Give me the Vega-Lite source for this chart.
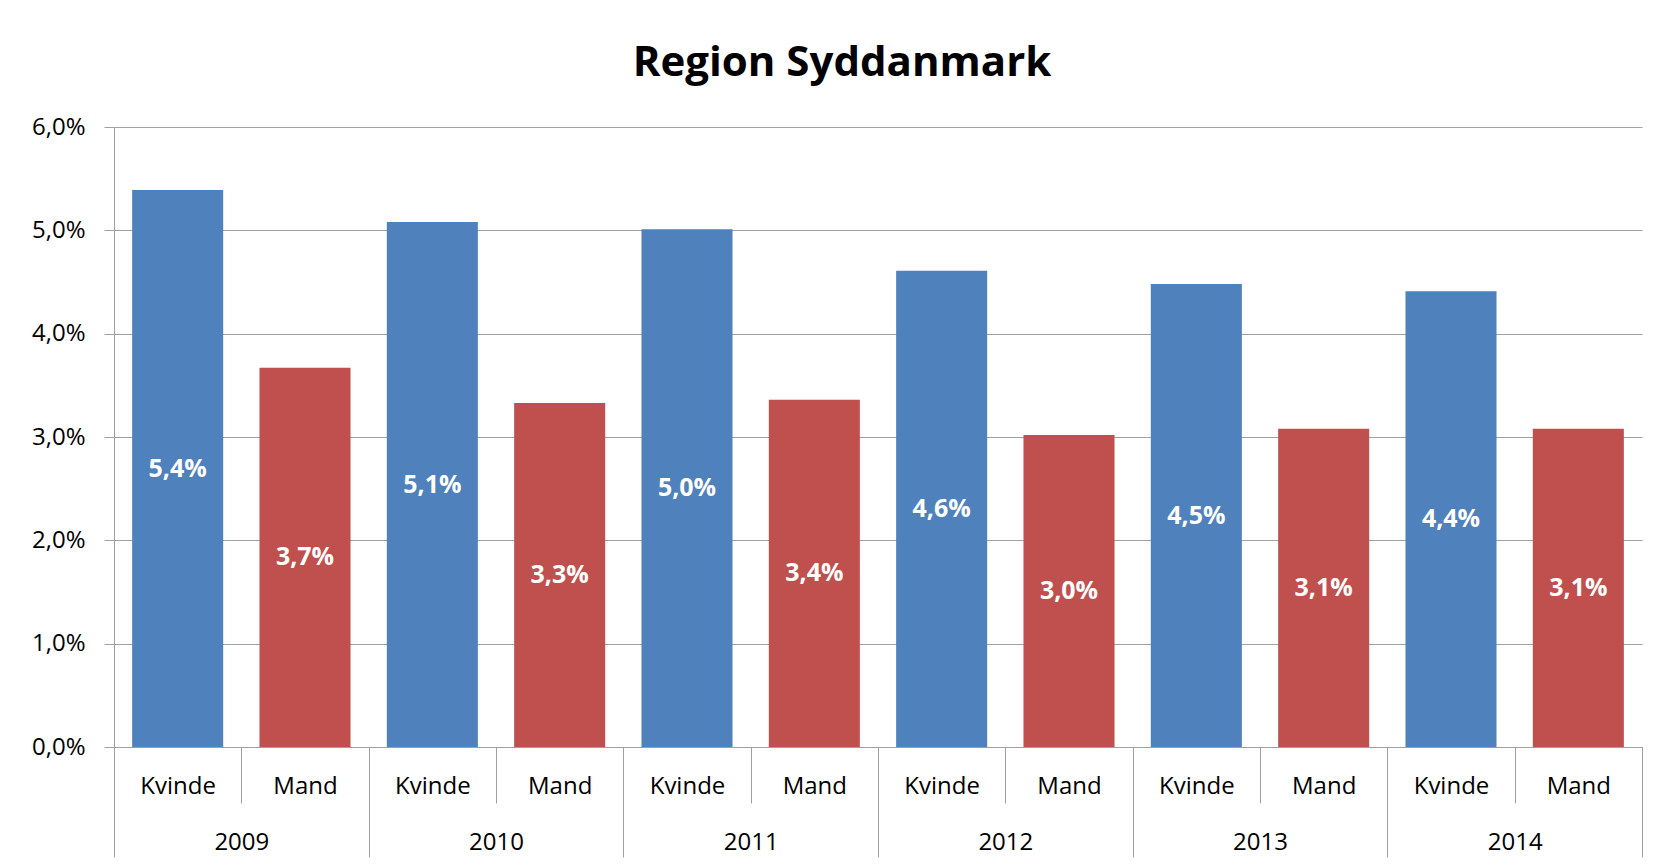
{
  "$schema": "https://vega.github.io/schema/vega-lite/v6.json",
  "width": 1528,
  "height": 620,
  "autosize": {"type": "none"},
  "padding": {"left": 114, "top": 127, "right": 29, "bottom": 120},
  "background": "white",
  "config": {
    "locale": {"number": {"decimal": ",", "thousands": ".", "grouping": [3], "currency": ["", " kr."]}},
    "view": {"stroke": null},
    "font": "Open Sans"
  },
  "title": {
    "text": "Region Syddanmark",
    "font": "Open Sans",
    "fontSize": 42,
    "fontWeight": "bold",
    "color": "#000000",
    "anchor": "middle",
    "baseline": "alphabetic",
    "offset": 0,
    "dy": 3,
    "dx": -36
  },
  "data": {
    "values": [
      {"year": "2009", "gender": "Kvinde", "key": "2009 Kvinde", "value": 0.0539},
      {"year": "2009", "gender": "Mand", "key": "2009 Mand", "value": 0.0367},
      {"year": "2010", "gender": "Kvinde", "key": "2010 Kvinde", "value": 0.0508},
      {"year": "2010", "gender": "Mand", "key": "2010 Mand", "value": 0.0333},
      {"year": "2011", "gender": "Kvinde", "key": "2011 Kvinde", "value": 0.0501},
      {"year": "2011", "gender": "Mand", "key": "2011 Mand", "value": 0.0336},
      {"year": "2012", "gender": "Kvinde", "key": "2012 Kvinde", "value": 0.0461},
      {"year": "2012", "gender": "Mand", "key": "2012 Mand", "value": 0.0302},
      {"year": "2013", "gender": "Kvinde", "key": "2013 Kvinde", "value": 0.0448},
      {"year": "2013", "gender": "Mand", "key": "2013 Mand", "value": 0.0308},
      {"year": "2014", "gender": "Kvinde", "key": "2014 Kvinde", "value": 0.0441},
      {"year": "2014", "gender": "Mand", "key": "2014 Mand", "value": 0.0308}
    ]
  },
  "layer": [
    {
      "mark": {"type": "bar"},
      "encoding": {
        "x": {
          "field": "year",
          "type": "nominal",
          "scale": {"paddingInner": 0, "paddingOuter": 0},
          "axis": {
            "orient": "bottom",
            "title": null,
            "labelAngle": 0,
            "tickBand": "extent",
            "tickSize": 110,
            "tickColor": "#a0a0a0",
            "domainColor": "#a0a0a0",
            "labelFontSize": 24,
            "labelColor": "#000000",
            "labelBaseline": "alphabetic",
            "labelPadding": -8,
            "grid": false
          }
        },
        "xOffset": {
          "field": "gender",
          "type": "nominal",
          "scale": {"paddingInner": 0.285, "paddingOuter": 0.1425}
        },
        "y": {
          "field": "value",
          "type": "quantitative",
          "scale": {"domain": [0, 0.06], "nice": false},
          "axis": {
            "title": null,
            "format": ".1%",
            "values": [0, 0.01, 0.02, 0.03, 0.04, 0.05, 0.06],
            "tickSize": 10,
            "tickColor": "#a0a0a0",
            "domainColor": "#a0a0a0",
            "gridColor": "#a0a0a0",
            "labelFontSize": 24,
            "labelColor": "#000000",
            "labelPadding": 19,
            "labelBaseline": "middle"
          }
        },
        "color": {
          "field": "gender",
          "type": "nominal",
          "scale": {"domain": ["Kvinde", "Mand"], "range": ["#4F81BD", "#C0504D"]},
          "legend": null
        }
      }
    },
    {
      "mark": {"type": "text", "color": "white", "fontWeight": "bold", "fontSize": 25, "font": "Open Sans", "baseline": "middle"},
      "encoding": {
        "x": {
          "field": "key",
          "type": "nominal",
          "scale": {"paddingInner": 0, "paddingOuter": 0},
          "axis": {
            "orient": "bottom",
            "title": null,
            "labelAngle": 0,
            "labelExpr": "split(datum.label, ' ')[1]",
            "tickBand": "extent",
            "tickSize": 56,
            "tickColor": "#a0a0a0",
            "domainColor": "#a0a0a0",
            "labelFontSize": 24,
            "labelColor": "#000000",
            "labelBaseline": "alphabetic",
            "labelPadding": -10,
            "grid": false
          }
        },
        "y": {
          "field": "value",
          "type": "quantitative",
          "scale": {"domain": [0, 0.12], "nice": false},
          "axis": null
        },
        "text": {"field": "value", "type": "quantitative", "format": ".1%"}
      }
    }
  ],
  "resolve": {
    "scale": {"x": "independent", "y": "independent"},
    "axis": {"x": "independent", "y": "independent"}
  }
}
